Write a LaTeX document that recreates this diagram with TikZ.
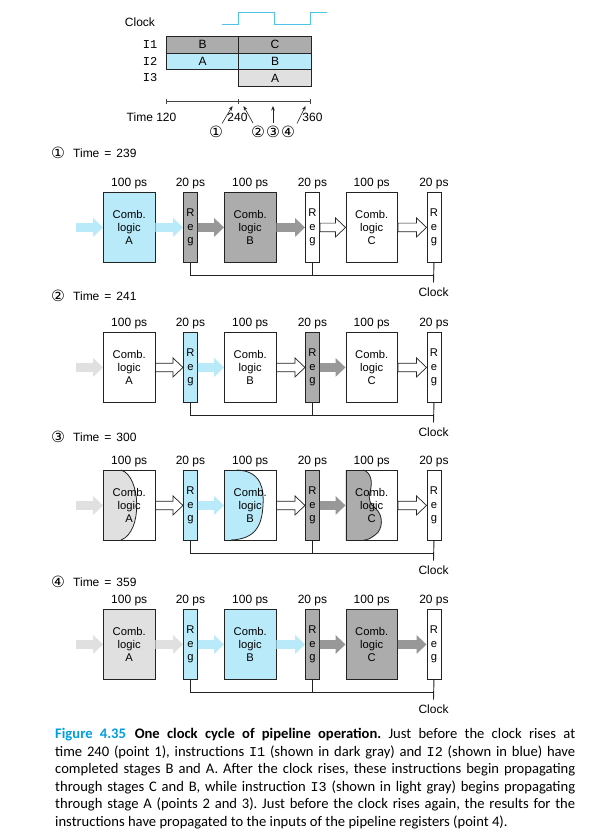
\documentclass[tikz,border=0pt]{standalone}
\usepackage{fontspec}
\setmainfont{Liberation Sans}
\newfontfamily\capfont{Carlito}
\newfontfamily\codefont{Liberation Mono}
\newfontfamily\circfont{DejaVu Sans}
\usetikzlibrary{calc,arrows.meta}

\definecolor{ink}{RGB}{35,35,35}
\definecolor{stageblue}{RGB}{185,234,250}
\definecolor{stagedark}{RGB}{172,172,172}
\definecolor{stagelight}{RGB}{224,224,224}
\definecolor{flowblue}{RGB}{185,234,250}
\definecolor{flowdark}{RGB}{152,152,152}
\definecolor{flowlight}{RGB}{224,224,224}
\definecolor{clockblue}{RGB}{80,195,232}
\definecolor{figblue}{RGB}{0,158,222}

\tikzset{
  comb/.style={draw=ink, line width=0.9pt, minimum width=51.5pt, minimum height=70pt,
    inner sep=0pt, anchor=north west, align=center, font=\fontsize{11.2}{13}\selectfont},
  regbox/.style={draw=ink, line width=0.9pt, minimum width=14pt, minimum height=70pt,
    inner sep=0pt, anchor=north west, align=center, font=\fontsize{11.2}{13.5}\selectfont},
  lbl/.style={inner sep=0pt, font=\fontsize{12}{13}\selectfont},
  circ/.style={inner sep=0pt, font=\circfont\fontsize{15.5}{16}\selectfont},
  code/.style={inner sep=0pt, font=\codefont\fontsize{12}{13}\selectfont},
  cell/.style={draw=ink, line width=0.9pt, minimum width=72.4pt, minimum height=16.7pt,
    inner sep=0pt, anchor=north west, font=\fontsize{12}{13}\selectfont},
  wire/.style={draw=ink, line width=0.9pt},
  axis/.style={draw=ink!85, line width=0.7pt},
  ptr/.style={draw=ink, line width=0.6pt, -{Stealth[length=4.5pt,width=3.6pt]}},
  front/.style={draw=ink, line width=0.8pt},
  hollow/.style={fill=white, draw=ink, line width=0.7pt},
  flowB/.style={fill=flowblue},
  flowD/.style={fill=flowdark},
  flowL/.style={fill=flowlight},
}

% wide block arrow from the point #1 to the point #2
\newcommand\blockarrow[3]{%
  \path[#3] let \p1=#1, \p2=#2 in
    (\x1,\y2+4.3pt) -- (\x2-10pt,\y2+4.3pt) -- (\x2-10pt,\y2+9.5pt) -- (\x2,\y2)
    -- (\x2-10pt,\y2-9.5pt) -- (\x2-10pt,\y2-4.3pt) -- (\x1,\y2-4.3pt) -- cycle;}

% one row of the pipeline: #1 id, #2 top, #3..#8 fills of A, reg, B, reg, C, reg
\newcommand\stagerow[8]{%
  \node[comb, fill=#3] (A#1) at (103,#2) {Comb.\\logic\\A};
  \node[regbox, fill=#4] (Ra#1) at (183,#2) {R\\e\\g};
  \node[comb, fill=#5] (B#1) at (224,#2) {Comb.\\logic\\B};
  \node[regbox, fill=#6] (Rb#1) at (305,#2) {R\\e\\g};
  \node[comb, fill=#7] (C#1) at (345.5,#2) {Comb.\\logic\\C};
  \node[regbox, fill=#8] (Rc#1) at (426.5,#2) {R\\e\\g};
  \node[lbl, anchor=base] (dA#1) at ([yshift=5.5pt]A#1.north) {100 ps};
  \node[lbl, anchor=base] (dRa#1) at ([yshift=5.5pt]Ra#1.north) {20 ps};
  \node[lbl, anchor=base] (dB#1) at ([yshift=5.5pt]B#1.north) {100 ps};
  \node[lbl, anchor=base] (dRb#1) at ([yshift=5.5pt]Rb#1.north) {20 ps};
  \node[lbl, anchor=base] (dC#1) at ([yshift=5.5pt]C#1.north) {100 ps};
  \node[lbl, anchor=base] (dRc#1) at ([yshift=5.5pt]Rc#1.north) {20 ps};
  \coordinate (bus#1) at (0,#2+83);
  \node[lbl, anchor=north] (clk#1) at (433.5,#2+95.5) {Clock};
  \draw[wire] (Ra#1.south) -- (Ra#1.south |- bus#1) -- (Rc#1.south |- bus#1);
  \draw[wire] (Rb#1.south) -- (Rb#1.south |- bus#1);
  \draw[wire] (Rc#1.south) -- ([yshift=5pt]clk#1.north);
}

% the six block arrows of a row: #1 id, #2..#7 their styles
\newcommand\flows[7]{%
  \coordinate (in#1) at ([xshift=-27pt]A#1.west);
  \blockarrow{(in#1)}{(A#1.west)}{#2}
  \blockarrow{(A#1.east)}{(Ra#1.west)}{#3}
  \blockarrow{(Ra#1.east)}{(B#1.west)}{#4}
  \blockarrow{(B#1.east)}{(Rb#1.west)}{#5}
  \blockarrow{(Rb#1.east)}{(C#1.west)}{#6}
  \blockarrow{(C#1.east)}{(Rc#1.west)}{#7}
}

% row heading
\newcommand\heading[4]{%
  \node[circ] (m#1) at (58,#2) {#3};
  \node[lbl, anchor=west] (h#1) at (73,#2) {Time\hspace{5pt}=\hspace{5pt}#4};
}

\begin{document}
\begin{tikzpicture}[x=1pt,y=-1pt]
\fill[white] (0,0) rectangle (589,834);
\useasboundingbox (0,0) rectangle (589,834);

% ---------- timing chart ----------
\node[lbl] (clocklbl) at (140,22) {Clock};
\draw[clockblue, line width=1pt] (222,25) -- (238.5,25) -- (238.5,12.3) -- (274.5,12.3)
  -- (274.5,25) -- (310.5,25) -- (310.5,12.3) -- (327,12.3);

\node[cell, fill=stagedark] (i1b) at (166,36) {B};
\node[cell, fill=stagedark] (i1c) at (238.4,36) {C};
\node[cell, fill=stageblue] (i2a) at (166,52.7) {A};
\node[cell, fill=stageblue] (i2b) at (238.4,52.7) {B};
\node[cell, fill=stagelight] (i3a) at (238.4,69.4) {A};
\node[code, anchor=east] (n1) at (157.5,44.3) {I1};
\node[code, anchor=east] (n2) at (157.5,61) {I2};
\node[code, anchor=east] (n3) at (157.5,77.7) {I3};

\coordinate (t0) at (166,101.7);
\coordinate (t1) at (238.4,101.7);
\coordinate (t2) at (310.8,101.7);
\draw[axis] (t0) -- (t2);
\foreach \t in {t0,t1,t2} \draw[axis] ([yshift=2.3pt]\t) -- ([yshift=-2.3pt]\t);

\node[lbl, anchor=east] (time120) at (176.5,117) {Time 120};
\node[lbl] (time240) at (237.5,117) {240};
\node[lbl] (time360) at (312.5,117) {360};

\node[circ] (p1) at (216,132) {①};
\node[circ] (p2) at (258,132) {②};
\node[circ] (p3) at (273,132) {③};
\node[circ] (p4) at (288,132) {④};
\coordinate (a1s) at (222,123.5); \coordinate (a1e) at (232.5,106);
\coordinate (a2s) at (253,123);   \coordinate (a2e) at (243.5,106);
\coordinate (a3s) at (273,123);   \coordinate (a3e) at (273,106);
\coordinate (a4s) at (297,123.5); \coordinate (a4e) at (305.5,106);
\draw[ptr] (a1s) -- (a1e);
\draw[ptr] (a2s) -- (a2e);
\draw[ptr] (a3s) -- (a3e);
\draw[ptr] (a4s) -- (a4e);

% ---------- time = 239 ----------
\heading{1}{153}{①}{239}
\stagerow{1}{192}{stageblue}{stagedark}{stagedark}{white}{white}{white}
\flows{1}{flowB}{flowB}{flowD}{flowD}{hollow}{hollow}

% ---------- time = 241 ----------
\heading{2}{296}{②}{241}
\stagerow{2}{332}{white}{stageblue}{white}{stagedark}{white}{white}
\flows{2}{flowL}{hollow}{flowB}{hollow}{flowD}{hollow}

% ---------- time = 300 : values part way through the logic ----------
\heading{3}{437}{③}{300}
\fill[stagelight] (103,470) -- (121,470) .. controls (141,476) and (143,532) .. (121,540) -- (103,540) -- cycle;
\draw[front] (121,470) .. controls (141,476) and (143,532) .. (121,540);
\fill[stageblue] (224,470) -- (237,470) .. controls (262,471) and (264,490) .. (263,505)
  .. controls (262,525) and (256,539) .. (231,540) -- (224,540) -- cycle;
\draw[front] (237,470) .. controls (262,471) and (264,490) .. (263,505)
  .. controls (262,525) and (256,539) .. (231,540);
\fill[stagedark] (345.5,470) -- (363,470) .. controls (371,472) and (373,482) .. (370,492)
  .. controls (368,499) and (370,504) .. (375,508) .. controls (384,515) and (383,530) .. (375,535)
  .. controls (371,538) and (368,540) .. (364,540) -- (345.5,540) -- cycle;
\draw[front] (363,470) .. controls (371,472) and (373,482) .. (370,492)
  .. controls (368,499) and (370,504) .. (375,508) .. controls (384,515) and (383,530) .. (375,535)
  .. controls (371,538) and (368,540) .. (364,540);
\stagerow{3}{470}{none}{stageblue}{none}{stagedark}{none}{white}
\flows{3}{flowL}{hollow}{flowB}{hollow}{flowD}{hollow}

% ---------- time = 359 ----------
\heading{4}{582}{④}{359}
\stagerow{4}{609}{stagelight}{stageblue}{stageblue}{stagedark}{stagedark}{white}
\flows{4}{flowL}{flowL}{flowB}{flowB}{flowD}{flowD}

% ---------- caption ----------
\node[anchor=north west, inner sep=0pt, text width=520pt, align=justify,
  font=\capfont\fontsize{14.6}{17.6}\selectfont] (caption) at (55,728)
{\frenchspacing\hyphenpenalty=10000 \tolerance=10000
{\color{figblue}\bfseries Figure 4.35}\hspace{0.6em}{\bfseries One clock cycle of pipeline operation.}
Just before the clock rises at\linebreak
time 240 (point 1), instructions {\codefont\fontsize{13.5}{17.6}\selectfont I1} (shown in dark gray) and {\codefont\fontsize{13.5}{17.6}\selectfont I2} (shown in blue) have\linebreak
completed stages B and A. After the clock rises, these instructions begin propagating\linebreak
through stages C and B, while instruction {\codefont\fontsize{13.5}{17.6}\selectfont I3} (shown in light gray) begins propagating\linebreak
through stage A (points 2 and 3). Just before the clock rises again, the results for the\linebreak
instructions have propagated to the inputs of the pipeline registers (point 4).};
\end{tikzpicture}
\end{document}
